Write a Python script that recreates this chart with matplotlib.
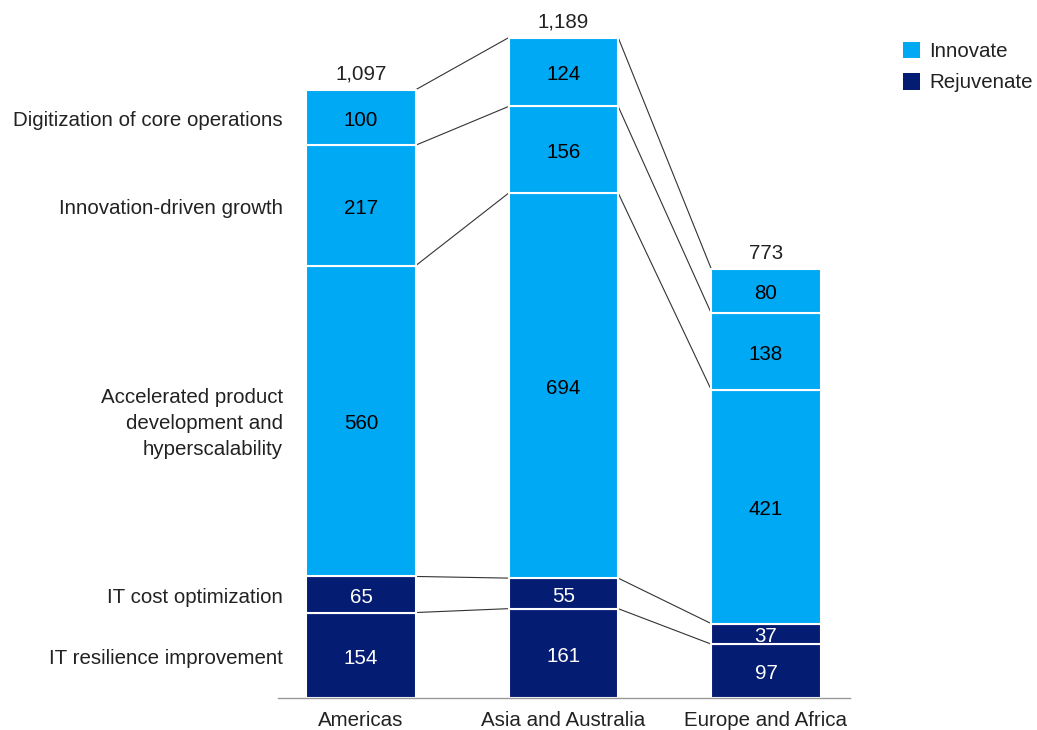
import matplotlib.pyplot as plt
from matplotlib.patches import Patch
import numpy as np

plt.rcParams['font.family'] = ['Liberation Sans', 'DejaVu Sans']

# data
regions = ['Americas', 'Asia and Australia', 'Europe and Africa']
segments = ['IT resilience improvement', 'IT cost optimization',
            'Accelerated product\ndevelopment and\nhyperscalability',
            'Innovation-driven growth', 'Digitization of core operations']
values = [
    [154, 161, 97],    # IT resilience improvement
    [65, 55, 37],      # IT cost optimization
    [560, 694, 421],   # Accelerated product development
    [217, 156, 138],   # Innovation-driven growth
    [100, 124, 80],    # Digitization of core operations
]
groups = ['Rejuvenate', 'Rejuvenate', 'Innovate', 'Innovate', 'Innovate']
totals = ['1,097', '1,189', '773']

colors = {'Innovate': '#00a9f4', 'Rejuvenate': '#051c73'}
text_colors = {'Innovate': 'black', 'Rejuvenate': 'white'}
fs = 14.8
dy = -5  # small downward nudge for text centred in segments

fig = plt.figure(figsize=(10.37, 7.3), dpi=100)
ax = fig.add_axes([278 / 1037, 32 / 730, 572 / 1037, 666 / 730])

x = np.arange(len(regions))
width = 0.54
vals = np.array(values, dtype=float)
bottoms = np.vstack([np.zeros(len(regions)), np.cumsum(vals, axis=0)])

for i, seg in enumerate(segments):
    g = groups[i]
    ax.bar(x, vals[i], width, bottom=bottoms[i], color=colors[g],
           edgecolor='white', linewidth=1.5, zorder=2)
    for j in range(len(regions)):
        ax.text(x[j], bottoms[i][j] + vals[i][j] / 2 + dy, f'{int(vals[i][j])}',
                ha='center', va='center', fontsize=fs, color=text_colors[g], zorder=3)
    # category label on the left of the first bar
    ax.text(-0.385, bottoms[i][0] + vals[i][0] / 2 + dy, seg, ha='right', va='center',
            fontsize=fs, color='#222222', linespacing=1.46)

# connector lines between segment boundaries
for k in range(1, len(bottoms)):
    for j in range(len(regions) - 1):
        ax.plot([x[j] + width / 2, x[j + 1] - width / 2],
                [bottoms[k][j], bottoms[k][j + 1]],
                color='#333333', linewidth=0.8, zorder=1)

# totals
for j in range(len(regions)):
    ax.text(x[j], bottoms[-1][j] + 28, totals[j], ha='center', va='center',
            fontsize=fs, color='#222222')

ax.set_xlim(-0.41, 2.415)
ax.set_ylim(0, 1200)
ax.set_xticks(x)
ax.set_xticklabels(regions, fontsize=fs, color='#222222')
ax.tick_params(axis='x', length=0, pad=9)
ax.set_yticks([])
for s in ['top', 'right', 'left']:
    ax.spines[s].set_visible(False)
ax.spines['bottom'].set_color('#999999')
ax.spines['bottom'].set_linewidth(1)

handles = [Patch(facecolor=colors['Innovate']), Patch(facecolor=colors['Rejuvenate'])]
fig.legend(handles, ['Innovate', 'Rejuvenate'], loc='upper left',
           bbox_to_anchor=(884 / 1037, 1 - 23 / 730), frameon=False,
           fontsize=fs, handlelength=0.85, handleheight=0.85, handletextpad=0.45,
           labelspacing=0.6, labelcolor='#222222')

fig.savefig('out.png', dpi=100)
